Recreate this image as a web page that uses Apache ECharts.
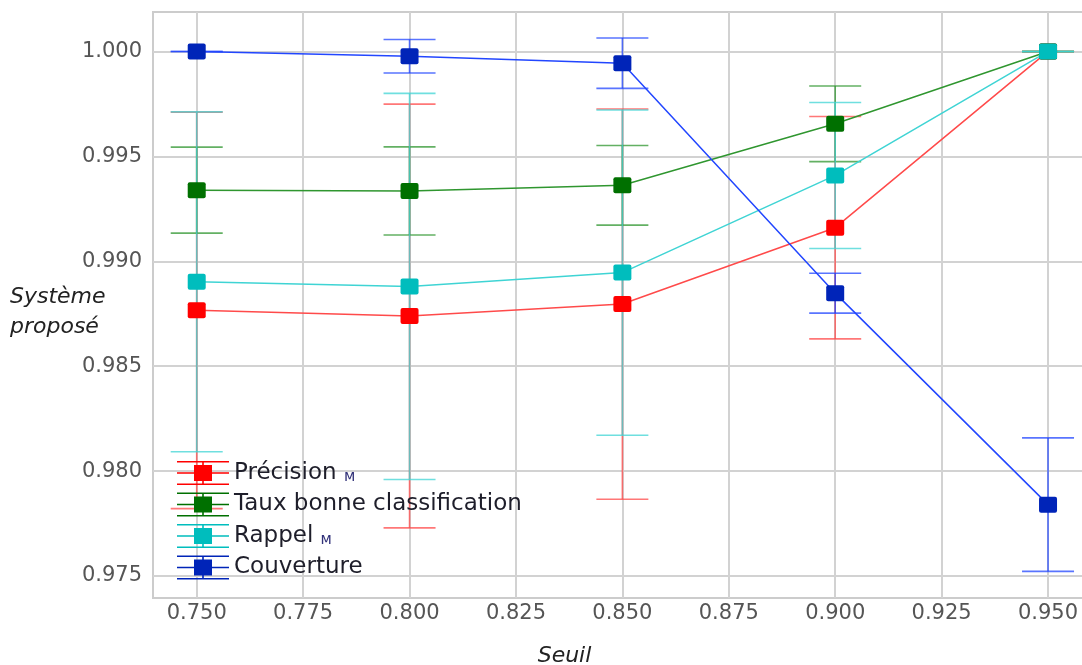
<!DOCTYPE html>
<html>
<head>
<meta charset="utf-8">
<script src="https://cdn.jsdelivr.net/npm/echarts@6/dist/echarts.min.js"></script>
<style>html,body{margin:0;padding:0;background:#fff;}#chart{width:1082px;height:665px;}</style>
</head>
<body>
<div id="chart"></div>
<script>
// ---- data ----
const seuils = [0.75, 0.80, 0.85, 0.90, 0.95];
const xTicks = [0.75, 0.775, 0.80, 0.825, 0.85, 0.875, 0.90, 0.925, 0.95];
const yTicks = [0.975, 0.980, 0.985, 0.990, 0.995, 1.000];

const seriesNames = ['Précision', 'Taux bonne classification', 'Rappel', 'Couverture'];
const precision     = [0.98766, 0.98739, 0.98796, 0.99160, 1.0000];
const precisionErr  = [0.00945, 0.01010, 0.00930, 0.00530, 0.0000];
const taux          = [0.99339, 0.99335, 0.99362, 0.99655, 1.0000];
const tauxErr       = [0.00205, 0.00210, 0.00190, 0.00180, 0.0000];
const rappel        = [0.98902, 0.98880, 0.98946, 0.99409, 1.0000];
const rappelErr     = [0.00810, 0.00920, 0.00775, 0.00348, 0.0000];
const couverture    = [1.00000, 0.99977, 0.99944, 0.98848, 0.97840];
const couvertureErr = [0.00000, 0.00080, 0.00120, 0.00095, 0.00318];

const values = [precision, taux, rappel, couverture];
const errors = [precisionErr, tauxErr, rappelErr, couvertureErr];

// ---- styles ----
const markerColors = ['#ff0000', '#007000', '#00bdbd', '#0024b8'];
const lineColors   = ['#ff4a4a', '#2f962f', '#3fd4d4', '#2246ff'];

const chart = echarts.init(document.getElementById('chart'), null, {renderer: 'canvas'});

function errRenderer(color) {
  return function (params, api) {
    const x = api.value(0), y = api.value(1), e = api.value(2);
    const top = api.coord([x, y + e]);
    const bot = api.coord([x, y - e]);
    const hw = 26;
    const st = () => ({stroke: color, lineWidth: 1.6, opacity: 0.75});
    return {
      type: 'group',
      children: [
        {type: 'line', shape: {x1: top[0], y1: top[1], x2: bot[0], y2: bot[1]}, style: st()},
        {type: 'line', shape: {x1: top[0] - hw, y1: top[1], x2: top[0] + hw, y2: top[1]}, style: st()},
        {type: 'line', shape: {x1: bot[0] - hw, y1: bot[1], x2: bot[0] + hw, y2: bot[1]}, style: st()}
      ]
    };
  };
}

const series = [];
values.forEach((vals, k) => {
  series.push({
    name: seriesNames[k] + ' err',
    type: 'custom',
    renderItem: errRenderer(lineColors[k]),
    data: seuils.map((s, i) => [s, vals[i], errors[k][i]]),
    z: 2,
    silent: true
  });
});
values.forEach((vals, k) => {
  series.push({
    name: seriesNames[k],
    type: 'line',
    data: seuils.map((s, i) => [s, vals[i]]),
    symbol: 'path://M2 0H16Q18 0 18 2V14Q18 16 16 16H2Q0 16 0 14V2Q0 0 2 0Z',
    symbolSize: [18, 16],
    showSymbol: true,
    itemStyle: {color: markerColors[k]},
    lineStyle: {color: lineColors[k], width: 1.5},
    z: 3,
    animation: false
  });
});

const legendIcon = 'path://M0 0H52V1.6H0Z M0 11.2H52V12.8H0Z M0 22.4H52V24H0Z M25.2 0H26.8V24H25.2Z M17 4H35V20H17Z';

const option = {
  animation: false,
  backgroundColor: '#ffffff',
  title: {
    text: 'Système\nproposé',
    left: 10, top: 282, padding: 0,
    textStyle: {fontFamily: 'DejaVu Sans', fontStyle: 'italic', fontWeight: 'normal', fontSize: 22, color: '#222222', lineHeight: 30}
  },
  grid: {left: 153, top: 12, right: -2, bottom: 67, show: true, borderColor: '#cccccc', borderWidth: 2,
         backgroundColor: 'transparent', outerBoundsMode: 'none', containLabel: false},
  xAxis: {
    type: 'value',
    min: 0.73973, max: 0.95845,
    axisLine: {show: false},
    axisTick: {show: false, customValues: xTicks},
    splitLine: {show: true, lineStyle: {color: '#d2d2d2', width: 2}},
    axisLabel: {
      customValues: xTicks, margin: 5,
      formatter: v => v.toFixed(3),
      fontFamily: 'DejaVu Sans', fontSize: 21, color: '#555555'
    },
    name: '{a|Seuil}', nameLocation: 'middle', nameGap: 47,
    nameTextStyle: {
      rich: {a: {fontFamily: 'DejaVu Sans', fontStyle: 'italic', fontSize: 22, color: '#222222', padding: [0, 108, 0, 0]}}
    }
  },
  yAxis: {
    type: 'value',
    min: 0.97395, max: 1.00188,
    axisLine: {show: false},
    axisTick: {show: false, customValues: yTicks},
    splitLine: {show: true, lineStyle: {color: '#d2d2d2', width: 2}},
    axisLabel: {
      customValues: yTicks, margin: 11,
      formatter: v => v.toFixed(3),
      fontFamily: 'DejaVu Sans', fontSize: 21, color: '#555555'
    }
  },
  legend: {
    data: seriesNames.map((n, k) => ({name: n, icon: legendIcon})),
    orient: 'vertical',
    left: 172, top: 456,
    itemWidth: 52, itemHeight: 24, itemGap: 7.5,
    formatter: function (name) {
      if (name === 'Précision' || name === 'Rappel') return name + ' {s|ᴍ}';
      return name;
    },
    textStyle: {
      fontFamily: 'DejaVu Sans', fontSize: 23, color: '#1e1e2a',
      rich: {s: {fontFamily: 'DejaVu Sans', fontSize: 15, color: '#33337a', padding: [8, 0, 0, 0]}}
    }
  },
  series: series
};
chart.setOption(option);
</script>
</body>
</html>
